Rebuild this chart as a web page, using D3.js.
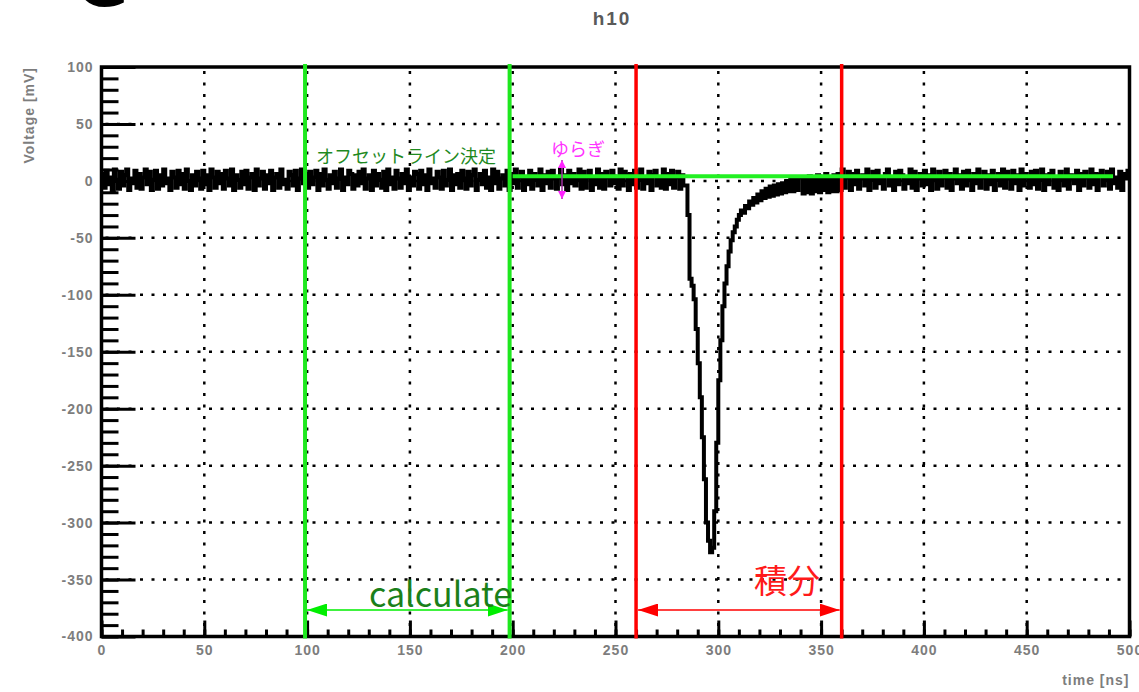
<!DOCTYPE html>
<meta charset="utf-8">
<style>
    body { margin: 0; background: #fff; }
    .axis text { font: bold 14px "Liberation Sans", sans-serif; fill: #7d7d7d; letter-spacing: 1px; }
    .axis path, .axis line { stroke: #000; }
</style>
<svg></svg>
<script src="https://d3js.org/d3.v7.min.js"></script>
<script>

    var width = 1139,
        height = 692;
    var margin = { top: 67, right: 9.5, bottom: 55.5, left: 101.5 };

    // waveform, 1 ns bins starting at 0 ns (mV)
    var binWidth = 1;
    var voltage = [
        6, -6, 9, -3, 3, -8, 10, 1, -7, 8, -4, 5, 10, -8, 2, -2, 9, -6, 6, -7, 3, 10, -3, 8, -8,
        1, 9, -7, 5, -4, 10, -2, 2, -8, 8, 3, -6, 9, -3, 6, -7, 10, 0, -8, 5, -4, 8, 2, -7, 9,
        -3, 5, -8, 10, 3, -6, 8, -2, 6, -7, 9, 2, -4, 10, -8, 5, 1, -6, 8, -3, 9, -7, 3, 6, -8,
        10, -4, 2, 8, -7, 5, -2, 9, -8, 3, 6, -6, 10, -3, 1, -7, 8, 5, -4, 9, -8, 2, 10, -2, 6,
        -6, 8, -3, 3, 9, -8, 6, -4, 10, 1, -7, 5, -2, 8, -6, 2, 10, -8, 3, -3, 9, 6, -7, 5, -4,
        8, -2, 10, -7, 2, 5, -8, 9, -4, 6, 1, -6, 8, -8, 10, -3, 3, -7, 9, 2, -6, 6, -2, 10, -8,
        3, -4, 8, 6, -7, 9, -3, 5, -8, 10, -2, 2, -6, 8, 3, -7, 9, -4, 1, 10, -8, 5, -3, 6, -6,
        9, 2, -7, 8, -4, 5, 10, -8, 1, 6, -3, 9, -6, 3, -8, 10, -2, 8, -7, 2, 5, -4, 9, -8, 6,
        -2, 10, -6, 3, 8, -8, 2, -3, 9, -7, 6, 1, -4, 10, -8, 5, -2, 8, -6, 9, 2, -7, 3, 10, -3,
        5, -8, 9, -2, 6, -4, 2, 10, -7, 8, -6, 3, 9, -8, 1, -3, 10, -6, 6, -7, 8, 3, -4, 9, -2,
        2, -7, 10, -4, 8, 5, -8, 6, -3, 9, -6, 1, 10, -7, 3, -2, 8, -8, 5, 9, -4, 2, -6, 10, -7,
        6, -3, 9, -6, 3, 8, -7, 5, -4,
        // pulse
        -4, -30, -86, -92, -104, -130, -160, -190, -225, -262,
        -300, -316, -326, -322, -290, -230, -175, -140, -110, -90,
        -75, -62, -52, -45, -40, -34, -30, -26, -28, -22,
        -24, -18, -21, -15, -19, -12, -17, -9, -15, -7,
        -14, -5, -13, -4, -12, -3, -11, -2, -10, 0,
        -9, 1, -9, 2, -8, 3,
        3, -11, 2, -10, 4, -11, 1, -9, 5, -10, 3, -8, 6, -10, 2, -9, 5, -9, 6, -8,
        // baseline after pulse
        10, -6, 3, 8, -8, 6, -3, 9, -7, 2, 5, -4, 10, -8, 1, 8, -6, 9, -2, 3,
        -7, 6, 10, -4, 2, -8, 8, -3, 9, 5, -7, 3, -2, 10, -6, 8, -8, 2, 6, -4,
        9, -3, 5, -8, 10, 1, -7, 8, -4, 3, 9, -6, 6, -8, 2, 10, -2, 5, -7, 8,
        -4, 9, 2, -8, 6, -2, 10, -6, 3, 8, -7, 5, -3, 9, -8, 1, 6, -4, 10, -6,
        8, 2, -7, 9, -2, 5, -8, 10, -4, 6, 3, -6, 8, -3, 9, -7, 1, 10, -8, 5,
        -3, 6, 9, -6, 3, -8, 8, 1, -4, 10, -7, 5, 2, -2, 9, -8, 6, -4, 8, 3,
        -6, 10, -3, 6, -8, 5, 9, -4, 2, 8, -7, 10, -2, 3, -6, 8, -8, 6, 2, 9
    ];

    var xTicks = [0, 50, 100, 150, 200, 250, 300, 350, 400, 450, 500];
    var yTicks = [100, 50, 0, -50, -100, -150, -200, -250, -300, -350, -400];
    var xMinor = d3.range(0, 501, 10);
    var yMinor = d3.range(-400, 101, 10);

    // annotations
    var offsetRange = [99, 198.5];
    var integralRange = [260, 360];
    var offsetLevel = 4;
    var offsetLineEnd = 492;

    var svg = d3.select("svg")
        .attr("width", width)
        .attr("height", height);

    var x = d3.scaleLinear().domain([0, 500]).range([margin.left, width - margin.right]);
    var y = d3.scaleLinear().domain([-400, 100]).range([height - margin.bottom, margin.top]);

    // slide heading glyph cut at top
    svg.append("text")
        .attr("x", 76).attr("y", 6)
        .style("font", "bold 64px 'DejaVu Sans', sans-serif")
        .text("G");

    svg.append("text")
        .attr("x", 612).attr("y", 25)
        .attr("text-anchor", "middle")
        .style("font", "bold 19px 'Liberation Sans', sans-serif")
        .style("fill", "#5a5a5a")
        .style("letter-spacing", "2px")
        .text("h10");

    // grid
    var grid = svg.append("g")
        .attr("stroke", "#000")
        .attr("stroke-width", 2.5)
        .attr("stroke-dasharray", "3,8.5");
    grid.selectAll(".gx")
        .data(xTicks.slice(1, -1))
        .enter().append("line")
        .attr("x1", function (d) { return x(d); })
        .attr("x2", function (d) { return x(d); })
        .attr("y1", y(100) + 4)
        .attr("y2", y(-400));
    grid.selectAll(".gy")
        .data(yTicks.slice(1, -1))
        .enter().append("line")
        .attr("y1", function (d) { return y(d); })
        .attr("y2", function (d) { return y(d); })
        .attr("x1", x(0) + 4)
        .attr("x2", x(500));

    var plain = function (d) { return String(d); };

    // axes
    svg.append("g")
        .attr("class", "axis")
        .attr("transform", "translate(" + margin.left + ",0)")
        .call(d3.axisLeft(y).tickValues(yMinor).tickSize(-17).tickFormat(""))
        .call(function (g) { g.select(".domain").remove(); })
        .selectAll("line").attr("stroke-width", 3);

    svg.append("g")
        .attr("class", "axis")
        .attr("transform", "translate(" + margin.left + ",0)")
        .call(d3.axisLeft(y).tickValues(yTicks).tickSize(-34).tickPadding(8).tickFormat(plain))
        .call(function (g) { g.select(".domain").remove(); })
        .selectAll("line").attr("stroke-width", 3);

    svg.append("g")
        .attr("class", "axis")
        .attr("transform", "translate(0," + (height - margin.bottom) + ")")
        .call(d3.axisBottom(x).tickValues(xMinor).tickSize(-7).tickFormat(""))
        .call(function (g) { g.select(".domain").remove(); })
        .selectAll("line").attr("stroke-width", 3);

    svg.append("g")
        .attr("class", "axis")
        .attr("transform", "translate(0," + (height - margin.bottom) + ")")
        .call(d3.axisBottom(x).tickValues(xTicks).tickSize(-16).tickPadding(9).tickFormat(plain))
        .call(function (g) { g.select(".domain").remove(); })
        .selectAll("line").attr("stroke-width", 3);

    svg.append("text")
        .attr("transform", "translate(34," + margin.top + ") rotate(-90)")
        .attr("text-anchor", "end")
        .style("font", "bold 14px 'Liberation Sans', sans-serif")
        .style("fill", "#7d7d7d")
        .style("letter-spacing", "1px")
        .text("Voltage [mV]");

    svg.append("text")
        .attr("x", width - margin.right).attr("y", 685)
        .attr("text-anchor", "end")
        .style("font", "bold 14px 'Liberation Sans', sans-serif")
        .style("fill", "#7d7d7d")
        .style("letter-spacing", "1px")
        .text("time [ns]");

    // waveform
    var points = voltage.map(function (v, i) { return [i * binWidth, v]; });
    points.push([voltage.length * binWidth, voltage[voltage.length - 1]]);

    svg.append("path")
        .datum(points)
        .attr("fill", "none")
        .attr("stroke", "#000")
        .attr("stroke-width", 4)
        .attr("d", d3.line()
            .x(function (d) { return x(d[0]); })
            .y(function (d) { return y(d[1]); })
            .curve(d3.curveStepAfter));

    // frame
    svg.append("rect")
        .attr("x", margin.left).attr("y", margin.top)
        .attr("width", width - margin.left - margin.right)
        .attr("height", height - margin.top - margin.bottom)
        .attr("fill", "none")
        .attr("stroke", "#000")
        .attr("stroke-width", 3.5);

    // annotations
    var defs = svg.append("defs");
    function marker(id, color, w, h) {
        defs.append("marker")
            .attr("id", id)
            .attr("viewBox", "0 0 " + w + " " + h)
            .attr("refX", w).attr("refY", h / 2)
            .attr("markerUnits", "userSpaceOnUse")
            .attr("markerWidth", w).attr("markerHeight", h)
            .attr("orient", "auto-start-reverse")
            .append("path")
            .attr("d", "M0,0L" + w + "," + h / 2 + "L0," + h + "Z")
            .attr("fill", color);
    }
    marker("agreen", "#00ee00", 20, 13);
    marker("ared", "#ff0000", 20, 13);
    marker("amag", "#ff22ff", 8, 8);

    svg.selectAll(".vgreen")
        .data(offsetRange)
        .enter().append("line")
        .attr("x1", function (d) { return x(d); })
        .attr("x2", function (d) { return x(d); })
        .attr("y1", margin.top - 3).attr("y2", height - margin.bottom + 2)
        .attr("stroke", "#1ee81e")
        .attr("stroke-width", 4);

    svg.selectAll(".vred")
        .data(integralRange)
        .enter().append("line")
        .attr("x1", function (d) { return x(d); })
        .attr("x2", function (d) { return x(d); })
        .attr("y1", margin.top - 3).attr("y2", height - margin.bottom + 2)
        .attr("stroke", "#ff0000")
        .attr("stroke-width", 3.5);

    svg.append("line")
        .attr("x1", x(offsetRange[1]) + 3).attr("x2", x(offsetLineEnd))
        .attr("y1", y(offsetLevel)).attr("y2", y(offsetLevel))
        .attr("stroke", "#22f022")
        .attr("stroke-width", 4);

    svg.append("line")
        .attr("x1", x(offsetRange[0]) + 2).attr("x2", x(offsetRange[1]) - 2)
        .attr("y1", 610).attr("y2", 610)
        .attr("stroke", "#00ee00")
        .attr("stroke-width", 1.5)
        .attr("marker-start", "url(#agreen)")
        .attr("marker-end", "url(#agreen)");

    svg.append("line")
        .attr("x1", x(integralRange[0]) + 2).attr("x2", x(integralRange[1]) - 2)
        .attr("y1", 610).attr("y2", 610)
        .attr("stroke", "#ff0000")
        .attr("stroke-width", 1.5)
        .attr("marker-start", "url(#ared)")
        .attr("marker-end", "url(#ared)");

    svg.append("line")
        .attr("x1", 562).attr("x2", 562)
        .attr("y1", 160).attr("y2", 199)
        .attr("stroke", "#a030a0")
        .attr("stroke-width", 1.5)
        .attr("marker-start", "url(#amag)")
        .attr("marker-end", "url(#amag)");

    var jp = "'Noto Sans CJK JP', sans-serif";
    svg.append("text")
        .attr("x", 316).attr("y", 163)
        .style("font", "18px " + jp)
        .style("fill", "#1f8a1f")
        .text("オフセットライン決定");

    svg.append("text")
        .attr("x", 551).attr("y", 156)
        .style("font", "18px " + jp)
        .style("fill", "#ff33ff")
        .text("ゆらぎ");

    svg.append("text")
        .attr("x", 369).attr("y", 607)
        .style("font", "34px " + jp)
        .style("fill", "#1a801a")
        .text("calculate");

    svg.append("text")
        .attr("x", 754).attr("y", 593)
        .style("font", "33px " + jp)
        .style("fill", "#ff1a1a")
        .text("積分");

</script>
